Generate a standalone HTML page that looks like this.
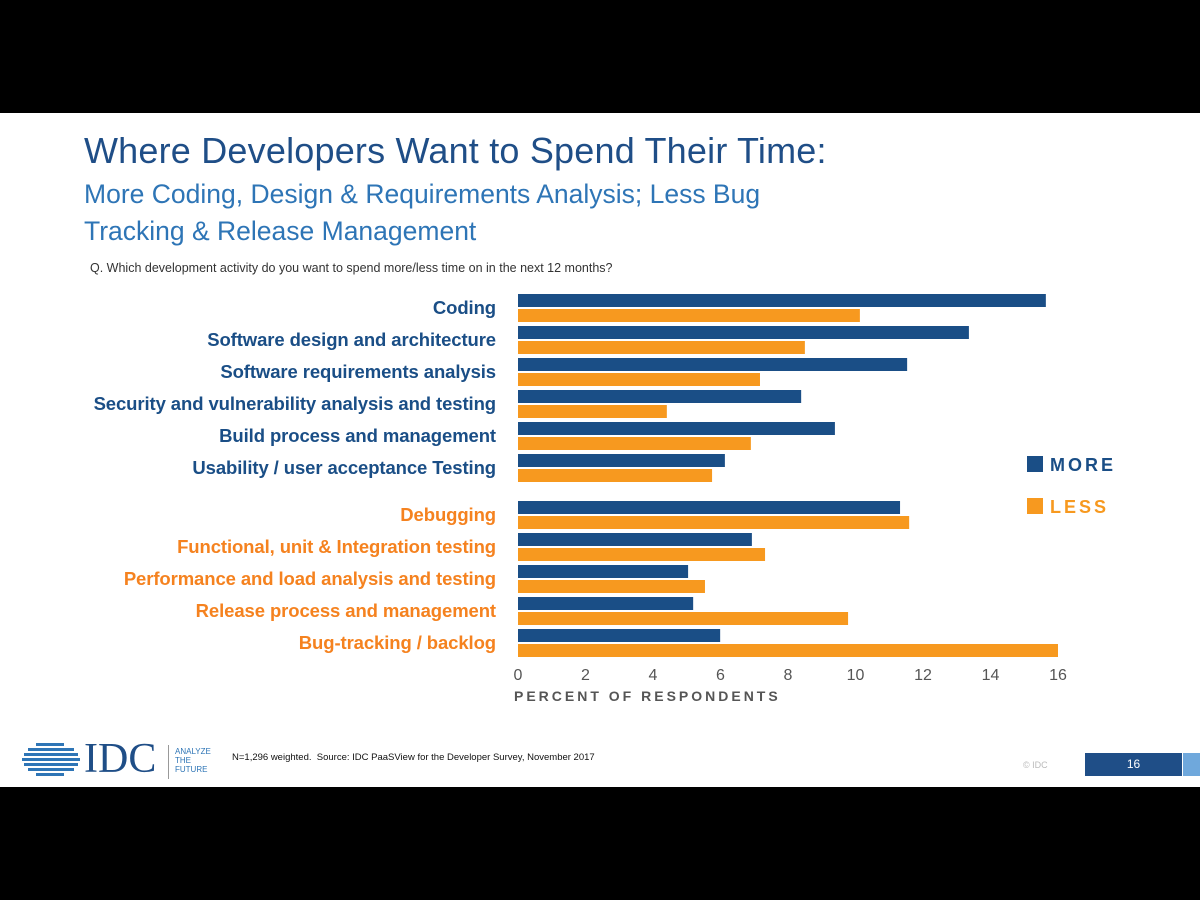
<!DOCTYPE html>
<html><head><meta charset="utf-8"><style>
body{margin:0;width:1200px;height:900px;background:#000;overflow:hidden;font-family:"Liberation Sans",sans-serif}
#slide{position:absolute;left:0;top:113px;width:1200px;height:674px;background:#fff}
.t{position:absolute;white-space:nowrap}
</style></head><body>
<div id="slide"></div>
<div class="t" style="left:84px;top:130px;font-size:36px;color:#1f4e87;letter-spacing:0.2px">Where Developers Want to Spend Their Time:</div>
<div class="t" style="left:84px;top:176px;font-size:26.5px;color:#2e75b6;line-height:37px">More Coding, Design &amp; Requirements Analysis; Less Bug<br>Tracking &amp; Release Management</div>
<div class="t" style="left:90px;top:261px;font-size:12.5px;color:#333">Q. Which development activity do you want to spend more/less time on in the next 12 months?</div>
<svg id="chart" width="1200" height="900" style="position:absolute;left:0;top:0"></svg>
<div class="t" style="left:232px;top:752px;font-size:9.5px;color:#111">N=1,296 weighted.&nbsp; Source: IDC PaaSView for the Developer Survey, November 2017</div>
<div class="t" style="left:84px;top:738px;font-family:'Liberation Serif',serif;font-size:42px;color:#1f4e87;line-height:42px">IDC</div>
<svg style="position:absolute;left:22px;top:742px" width="58" height="38">
<g fill="#2e75b6"><rect x="14" y="1" width="28" height="3"/><rect x="6" y="6" width="46" height="3"/><rect x="2" y="11" width="54" height="3"/><rect x="0" y="16" width="58" height="3"/><rect x="2" y="21" width="54" height="3"/><rect x="6" y="26" width="46" height="3"/><rect x="14" y="31" width="28" height="3"/></g></svg>
<div style="position:absolute;left:168px;top:745px;width:1px;height:34px;background:#999"></div>
<div class="t" style="left:175px;top:747px;font-size:8px;line-height:9px;color:#2e75b6">ANALYZE<br>THE<br>FUTURE</div>
<div class="t" style="left:1023px;top:760px;font-size:9px;color:#bbb">© IDC</div>
<div style="position:absolute;left:1085px;top:753px;width:97px;height:23px;background:#1f4e87;color:#fff;font-size:12px;line-height:23px;text-align:center">16</div>
<div style="position:absolute;left:1183px;top:753px;width:17px;height:23px;background:#6fa8dc"></div>
<script>
const categories=["Coding","Software design and architecture","Software requirements analysis","Security and vulnerability analysis and testing","Build process and management","Usability / user acceptance Testing","Debugging","Functional, unit & Integration testing","Performance and load analysis and testing","Release process and management","Bug-tracking / backlog"];
const moreValues=[15.64,13.36,11.53,8.39,9.39,6.13,11.32,6.93,5.04,5.19,5.99];
const lessValues=[10.13,8.5,7.17,4.41,6.9,5.75,11.59,7.32,5.54,9.78,16.0];
const ticks=[0,2,4,6,8,10,12,14,16];
const NAVY="#1a4e86",ORANGE="#f7991f";
const svg=document.getElementById('chart');const NS="http://www.w3.org/2000/svg";
const x0=518,x1=1058;const xs=v=>x0+(x1-x0)*v/16;
const rowY=i=>294+32*i+(i>=6?15:0);
function mk(t,a){const e=document.createElementNS(NS,t);for(const k in a)e.setAttribute(k,a[k]);svg.appendChild(e);return e;}
categories.forEach((c,i)=>{
 const y=rowY(i);
 const m=mk('rect',{x:x0,y:y,width:xs(moreValues[i])-x0,height:13,fill:NAVY});
 
 
 const l=mk('rect',{x:x0,y:y+15,width:xs(lessValues[i])-x0,height:13,fill:ORANGE});
 
 
 const t=mk('text',{x:496,y:y+20,'text-anchor':'end','font-size':18.5,'font-weight':'bold',fill:i<6?NAVY:"#f5821f",'letter-spacing':-0.1});
 t.textContent=c;
 
 
});
ticks.forEach(v=>{const t=mk('text',{x:xs(v),y:680,'text-anchor':'middle','font-size':16,fill:'#555'});t.textContent=v;
 
 });
const at=mk('text',{x:514,y:701,'font-size':14,'font-weight':'bold','letter-spacing':3,fill:'#555'});at.textContent="PERCENT OF RESPONDENTS";


[["MORE",NAVY,456],["LESS",ORANGE,498]].forEach(([n,c,y])=>{
 const r=mk('rect',{x:1027,y:y,width:16,height:16,fill:c});
 
 
 const t=mk('text',{x:1050,y:y+15,'font-size':18,'font-weight':'bold','letter-spacing':3,fill:c});t.textContent=n;
 
 
});
</script>
</body></html>
